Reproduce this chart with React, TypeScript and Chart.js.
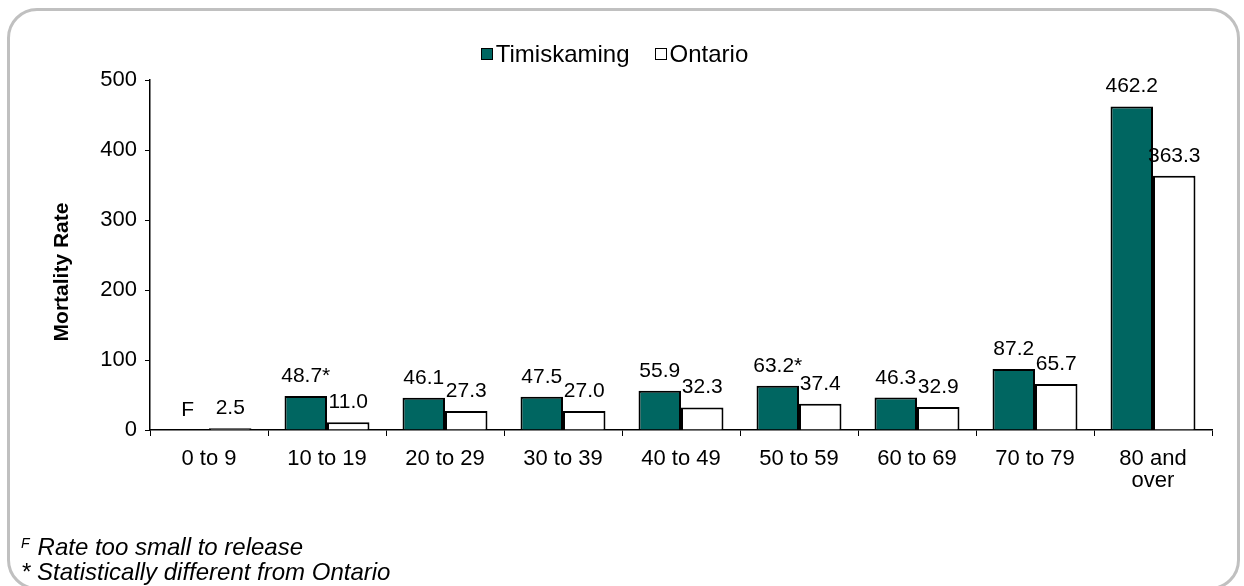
import React, { useEffect, useRef } from "react";
import { Chart, registerables } from "chart.js";

Chart.register(...registerables);

const categories: (string | string[])[] = [
  "0 to 9",
  "10 to 19",
  "20 to 29",
  "30 to 39",
  "40 to 49",
  "50 to 59",
  "60 to 69",
  "70 to 79",
  ["80 and", "over"],
];
const timiskamingValues: (number | null)[] = [0, 48.7, 46.1, 47.5, 55.9, 63.2, 46.3, 87.2, 462.2];
const ontarioValues: number[] = [2.5, 11.0, 27.3, 27.0, 32.3, 37.4, 32.9, 65.7, 363.3];
const timiskamingLabels: string[] = ["F", "48.7*", "46.1", "47.5", "55.9", "63.2*", "46.3", "87.2", "462.2"];
const ontarioLabels: string[] = ["2.5", "11.0", "27.3", "27.0", "32.3", "37.4", "32.9", "65.7", "363.3"];
const yTicks: number[] = [0, 100, 200, 300, 400, 500];
const yTitle = "Mortality Rate";

const FONT = "'Liberation Sans', Arial, Helvetica, sans-serif";
const TEAL = "#006661";

const labelPlugin = {
  id: "barLabels",
  afterDatasetsDraw(chart: any) {
    const ctx = chart.ctx;
    const sets = [timiskamingLabels, ontarioLabels];
    ctx.save();
    ctx.font = `21px ${FONT}`;
    ctx.fillStyle = "#000";
    ctx.textAlign = "center";
    ctx.textBaseline = "alphabetic";
    sets.forEach((labels, di) => {
      const meta = chart.getDatasetMeta(di);
      meta.data.forEach((bar: any, i: number) => {
        ctx.fillText(labels[i], bar.x, bar.y - 14);
      });
    });
    ctx.restore();
  },
};

const yTitlePlugin = {
  id: "yTitle",
  afterDraw(chart: any) {
    const ctx = chart.ctx;
    const area = chart.chartArea;
    ctx.save();
    ctx.translate(62, (area.top + area.bottom) / 2 + 17);
    ctx.rotate(-Math.PI / 2);
    ctx.font = `bold 21px ${FONT}`;
    ctx.fillStyle = "#000";
    ctx.textAlign = "center";
    ctx.textBaseline = "middle";
    ctx.fillText(yTitle, 0, 0);
    ctx.restore();
  },
};

export default function App() {
  const ref = useRef<HTMLCanvasElement | null>(null);

  useEffect(() => {
    document.body.style.overflow = "hidden";
    if (!ref.current) return;
    const chart = new Chart(ref.current, {
      type: "bar",
      data: {
        labels: categories,
        datasets: [
          {
            label: "Timiskaming",
            data: timiskamingValues,
            backgroundColor: TEAL,
            borderColor: "#000",
            borderWidth: 2,
            categoryPercentage: 0.72,
            barPercentage: 1,
          },
          {
            label: "Ontario",
            data: ontarioValues,
            backgroundColor: "#fff",
            borderColor: "#000",
            borderWidth: 2,
            categoryPercentage: 0.72,
            barPercentage: 1,
          },
        ],
      },
      options: {
        animation: false,
        responsive: false,
        maintainAspectRatio: false,
        layout: { padding: { left: 0, right: 32, top: 80, bottom: 96 } },
        plugins: {
          legend: { display: false },
          tooltip: { enabled: false },
        },
        scales: {
          x: {
            grid: {
              offset: true,
              drawOnChartArea: false,
              drawTicks: true,
              tickLength: 6,
              color: "#000",
            },
            border: { display: true, color: "#000", width: 1.5 },
            ticks: {
              color: "#000",
              font: { family: FONT, size: 22, lineHeight: 1.0 },
              padding: 12,
              maxRotation: 0,
              autoSkip: false,
            },
            afterFit: (scale: any) => {
              scale.height = 60;
            },
          },
          y: {
            min: 0,
            max: 500,
            afterBuildTicks: (scale: any) => {
              scale.ticks = yTicks.map((v) => ({ value: v }));
            },
            grid: {
              drawOnChartArea: false,
              drawTicks: true,
              tickLength: 5,
              color: "#000",
            },
            border: { display: true, color: "#000", width: 1.5 },
            ticks: {
              color: "#000",
              font: { family: FONT, size: 22 },
              padding: 8,
            },
            afterFit: (scale: any) => {
              scale.width = 150;
            },
          },
        },
      },
      plugins: [labelPlugin, yTitlePlugin],
    });
    return () => chart.destroy();
  }, []);

  const legendBox = (bg: string): React.CSSProperties => ({
    display: "inline-block",
    width: 12,
    height: 12,
    boxSizing: "border-box",
    border: "1.5px solid #000",
    background: bg,
    marginRight: 3,
  });

  return (
    <div style={{ position: "fixed", left: 0, top: 0, width: 1244, height: 586, background: "#fff", fontFamily: FONT, overflow: "hidden" }}>
      <div
        style={{
          position: "absolute",
          left: 7,
          top: 8,
          width: 1233,
          height: 582,
          boxSizing: "border-box",
          border: "3px solid #c0c0c0",
          borderRadius: 30,
        }}
      />
      <canvas ref={ref} width={1244} height={586} style={{ position: "absolute", left: 0, top: 0, width: 1244, height: 586 }} />
      <div
        style={{
          position: "absolute",
          left: 0,
          top: 38,
          width: 1229,
          textAlign: "center",
          fontSize: 24,
          lineHeight: "28px",
          color: "#000",
          whiteSpace: "nowrap",
        }}
      >
        <span style={{ display: "inline-flex", alignItems: "center" }}>
          <span style={legendBox(TEAL)} />
          <span>Timiskaming</span>
          <span style={{ display: "inline-block", width: 25 }} />
          <span style={legendBox("#fff")} />
          <span>Ontario</span>
        </span>
      </div>
      <div
        style={{
          position: "absolute",
          left: 21,
          top: 531,
          fontSize: 24,
          lineHeight: "25px",
          fontStyle: "italic",
          color: "#000",
          whiteSpace: "nowrap",
        }}
      >
        <div>
          <sup style={{ fontSize: 14, verticalAlign: "7px", marginRight: 8 }}>F</sup>
          Rate too small to release
        </div>
        <div>* Statistically different from Ontario</div>
      </div>
    </div>
  );
}
